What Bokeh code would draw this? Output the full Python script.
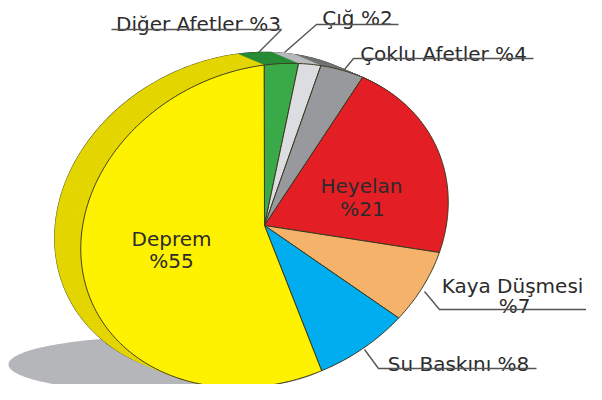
import numpy as np
from bokeh.plotting import figure
from bokeh.models import Range1d, ColumnDataSource
from bokeh.embed import file_html
from bokeh.resources import INLINE
from bokeh.core.properties import value

# ---- data ----
names = ["Diğer Afetler", "Çığ", "Çoklu Afetler", "Heyelan", "Kaya Düşmesi", "Su Baskını", "Deprem"]
values = [3, 2, 4, 21, 7, 8, 55]
front_colors = ["#3aaa48", "#dcdde0", "#98999c", "#e31e25", "#f5b26b", "#00aeef", "#fff200"]
side_colors = ["#2a8c38", "#b9babd", "#737476", "#b2151b", "#d08f4d", "#0089c0", "#e4d600"]

# ---- layout constants (reference pixel coordinates) ----
CX, CY = 268.0, 229.0
A, B = 189.0, 156.0
TH = np.radians(24.5)
T0 = 69.5          # parametric start angle (top), going clockwise
DX, DY = -26.0, -11.0
FONT = value("DejaVu Sans")
FS = "20px"
TXT = "#2b2b2b"

def ell(t_deg, dx=0.0, dy=0.0):
    t = np.radians(t_deg)
    x = CX + dx + A * np.cos(t) * np.cos(TH) - B * np.sin(t) * np.sin(TH)
    y = CY + dy - (A * np.cos(t) * np.sin(TH) + B * np.sin(t) * np.cos(TH))
    return x, y

p = figure(width=586, height=384, x_range=Range1d(4, 590), y_range=Range1d(388, 4),
           output_backend="svg", toolbar_location=None, min_border=0,
           x_axis_type=None, y_axis_type=None)
p.grid.visible = False
p.outline_line_color = None
p.background_fill_color = "white"

# shadow
ts = np.linspace(0, 2 * np.pi, 200)
p.patch(170 + 158 * np.cos(ts), 368 + 28 * np.sin(ts), fill_color="#b5b6ba", line_color=None)

# slice angles
total = float(sum(values))
starts, ends = [], []
acc = 0.0
for v in values:
    starts.append(T0 - 360.0 * acc / total)
    acc += v
    ends.append(T0 - 360.0 * acc / total)

def slice_poly(i, dx=0.0, dy=0.0):
    n = max(4, int(abs(starts[i] - ends[i]) * 1.5))
    tt = np.linspace(starts[i], ends[i], n)
    x, y = ell(tt, dx, dy)
    return [CX + dx] + list(x), [CY + dy] + list(y)

# back outline (silhouette)
bx, by = ell(np.linspace(0, 360, 400), DX, DY)
p.line(bx, by, line_color="#3a3a20", line_width=1.2)

# extrusion layers
N = 30
xs, ys, cs = [], [], []
for k in range(N):
    f = 1.0 - k / N
    for i in range(len(values)):
        px, py = slice_poly(i, DX * f, DY * f)
        xs.append(px); ys.append(py); cs.append(side_colors[i])
p.patches(xs, ys, fill_color=cs, line_color=cs, line_width=0.5)

# front face
fxs, fys = [], []
for i in range(len(values)):
    px, py = slice_poly(i)
    fxs.append(px); fys.append(py)
src = ColumnDataSource(dict(xs=fxs, ys=fys, c=front_colors, name=names, v=values))
p.patches("xs", "ys", source=src, fill_color="c", line_color="#3a3a20", line_width=1)

# inner labels
p.text(x=[175, 175], y=[242, 264], text=[names[6], "%" + str(values[6])],
       text_font=FONT, text_font_size=FS, text_align="center",
       text_baseline="alphabetic", text_color=TXT)
p.text(x=[365, 366], y=[189, 212], text=[names[3], "%" + str(values[3])],
       text_font=FONT, text_font_size=FS, text_align="center",
       text_baseline="alphabetic", text_color=TXT)

# outer labels
p.text(x=[202, 361, 447, 516, 518, 462], y=[27, 21, 57, 289, 309, 367],
       text=[names[0] + " %" + str(values[0]),
             names[1] + " %" + str(values[1]),
             names[2] + " %" + str(values[2]),
             names[4],
             "%" + str(values[4]),
             names[5] + " %" + str(values[5])],
       text_font=FONT, text_font_size=FS, text_align="center",
       text_baseline="alphabetic", text_color=TXT)

# leader lines with underlines
lx = [[115, 285, 262], [402, 320, 288], [537, 357, 348], [590, 443, 428], [540, 382, 368]]
ly = [[33, 33, 56], [28, 28, 56], [62, 62, 73], [313, 313, 295], [372, 372, 353]]
p.multi_line(lx, ly, line_color="#555555", line_width=1.4)

open("out.html", "w").write(file_html(p, INLINE))
